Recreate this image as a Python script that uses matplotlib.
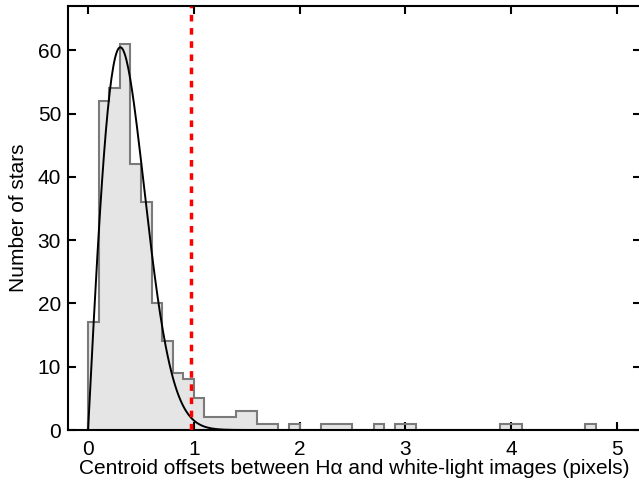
import numpy as np
import matplotlib
matplotlib.use("Agg")
import matplotlib.pyplot as plt

plt.rcParams.update({
    "font.family"      : ["Liberation Sans", "DejaVu Sans"],
    "font.size"        : 15,
    "axes.linewidth"   : 1.5,
    "xtick.direction"  : "in",
    "ytick.direction"  : "in",
    "xtick.top"        : True,
    "ytick.right"      : True,
    "xtick.major.size" : 6,
    "ytick.major.size" : 6,
    "xtick.major.width": 1.5,
    "ytick.major.width": 1.5,
    "xtick.major.pad"  : 7,
    "ytick.major.pad"  : 5,
})

# histogram: counts in 0.1-pixel bins, starting at 0
BIN_WIDTH = 0.1
counts = [17, 52, 54, 61, 42, 36, 20, 14, 9, 8,
          5, 2, 2, 2, 3, 3, 1, 1, 0, 1,
          0, 0, 1, 1, 1, 0, 0, 1, 0, 1,
          1, 0, 0, 0, 0, 0, 0, 0, 0, 1,
          1, 0, 0, 0, 0, 0, 0, 1]
edges = np.arange(len(counts) + 1) * BIN_WIDTH

# fitted (Rayleigh-type) curve: peak height and mode
FIT_PEAK = 60.5
FIT_MODE = 0.305
CUT = 0.97   # red dashed threshold

fig = plt.figure(figsize=(6.39, 4.84), dpi=100)
ax = fig.add_axes([68 / 639, 1 - 430 / 484, (641 - 68) / 639, (430 - 5.5) / 484])

ax.stairs(counts, edges, fill=True, color="#e5e5e5", zorder=1)
ax.stairs(counts, edges, baseline=0, color="#7a7a7a", lw=1.5, zorder=2)

xf = np.linspace(0, 5.3, 600)
yf = FIT_PEAK * (xf / FIT_MODE) * np.exp(0.5 * (1 - (xf / FIT_MODE) ** 2))
ax.plot(xf, yf, color="black", lw=1.4, zorder=3)

ax.axvline(CUT, color="#ff0000", lw=2.5, linestyle=(0, (1.9, 1.9)), zorder=4)

ax.set_xlim(-0.19, 5.23)
ax.set_ylim(0, 67.1)
ax.set_xticks([0, 1, 2, 3, 4, 5])
ax.set_yticks([0, 10, 20, 30, 40, 50, 60])
ax.set_xlabel("Centroid offsets between H\u03b1 and white-light images (pixels)",
              labelpad=0)
ax.set_ylabel("Number of stars", labelpad=7)

fig.savefig("out.png", dpi=100)
